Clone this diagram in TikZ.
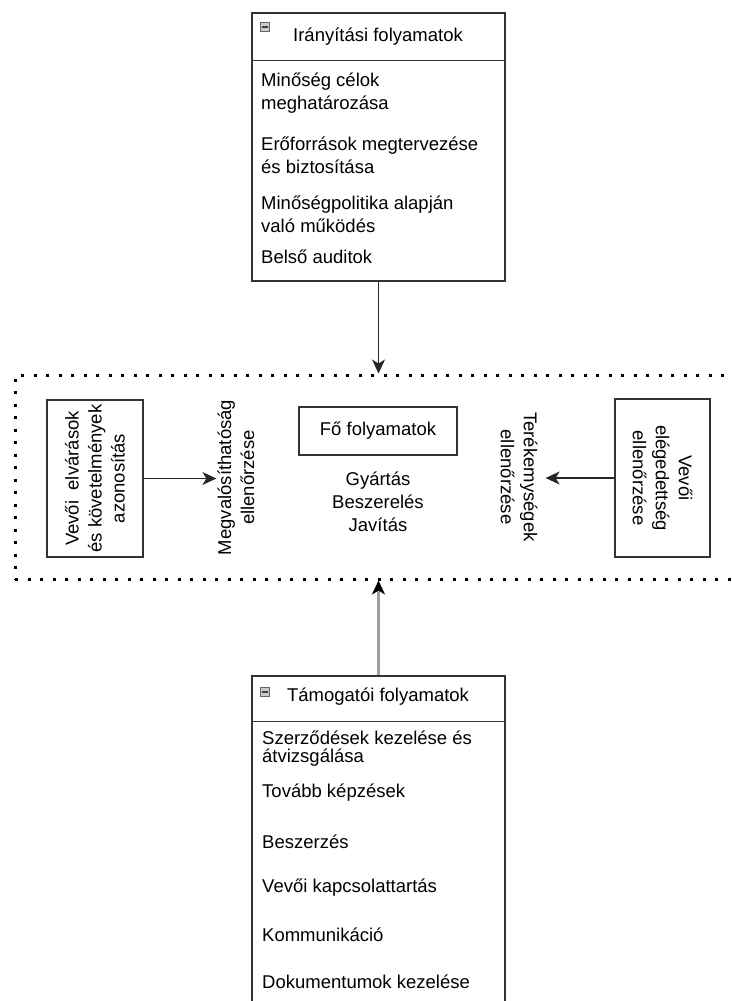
\documentclass[tikz,border=0pt]{standalone}
\usepackage{fontspec}
\setmainfont{Liberation Sans}
\usetikzlibrary{arrows.meta}

\begin{document}
\begin{tikzpicture}[x=1pt, y=-1pt,
  font=\fontsize{18.5}{23}\selectfont,
  panel/.style={draw=black!80, line width=1.3pt, minimum width=253pt, inner sep=0pt},
  box/.style={draw=black!80, line width=1.3pt, align=center, inner sep=0pt},
  dotbox/.style={draw=black, line width=3pt, dash pattern=on 3pt off 9.5pt, inner sep=0pt},
  item/.style={anchor=west, align=left, inner sep=0pt},
  minus/.style={draw=gray!80!black, fill=gray!40, line width=1pt, minimum size=9pt, inner sep=0pt,
    path picture={\draw[line width=1.8pt, black!75] ([xshift=1.8pt]path picture bounding box.west) -- ([xshift=-1.8pt]path picture bounding box.east);}},
  link/.style={draw=black!85, line width=1.3pt, -{Stealth[length=14pt, width=13pt, inset=4pt]}}
]
\useasboundingbox (0,0) rectangle (731,1001);
\clip (0,0) rectangle (731,1001);

% upper panel
\node [panel, minimum height=268pt] (ctrl) at (378.5,147) {};
\draw [draw=black!80, line width=1.3pt] ([yshift=-48pt]ctrl.north west) -- ([yshift=-48pt]ctrl.north east);
\node [minus] (ctrl-icon) at (265,27) {};
\node (ctrl-head) at (378,37) {Irányítási folyamatok};
\foreach \y/\txt [count=\i] in {
    93.5/{Minőség célok\\meghatározása},
    155/{Erőforrások megtervezése\\és biztosítása},
    214/{Minőségpolitika alapján\\való működés},
    257/{Belső auditok}
  }
  \node [item] (ctrl-\i) at (261,\y) {\txt};

% core processes
\node [dotbox, minimum width=740pt, minimum height=204pt] (core) at (385,477) {};
\node [box, minimum width=158pt, minimum height=48pt] (main) at (378,431) {Fő folyamatok};
\node [align=center, inner sep=0pt] (mainlist) at (378,502) {Gyártás\\Beszerelés\\Javítás};

\node [box, rotate=90, minimum width=157pt, minimum height=96pt] (req) at (95,478.5)
  {Vevői\ \ elvárások\\és követelmények\\azonosítás};
\node [align=center, rotate=90, inner sep=1pt] (feas) at (236,477.5) {Megvalósíthatóság\\ellenőrzése};

\node [box, rotate=-90, minimum width=158pt, minimum height=95pt] (sat) at (662.5,478) {Vevői\\elégedettség\\ellenőrzése};
\node [align=center, rotate=-90, inner xsep=1pt, inner ysep=8pt] (cons) at (519,477) {Terékemységek\\ellenőrzése};

% lower panel
\node [panel, minimum height=340pt] (supp) at (378.5,846) {};
\draw [draw=black!80, line width=1.3pt] ([yshift=-46pt]supp.north west) -- ([yshift=-46pt]supp.north east);
\node [minus] (supp-icon) at (265,692) {};
\node (supp-head) at (378,697) {Támogatói folyamatok};
\foreach \y/\txt [count=\i] in {
    749/{Szerződések kezelése és\\[-5pt]átvizsgálása},
    793/{Tovább képzések},
    842/{Beszerzés},
    888/{Vevői kapcsolattartás},
    935/{Kommunikáció},
    982/{Dokumentumok kezelése}
  }
  \node [item] (supp-\i) at (262,\y) {\txt};

% connectors
\draw [link] (ctrl.south) -- (ctrl.south |- core.north);
\draw [link] (req.south) -- (req.south -| feas.north);
\draw [link] (sat.south) -- (sat.south -| cons.north);
\draw [link, draw=gray!75, line width=2.4pt, -{Stealth[black, length=14pt, width=13pt, inset=4pt]}] (supp.north) -- (supp.north |- core.south);
\end{tikzpicture}
\end{document}
